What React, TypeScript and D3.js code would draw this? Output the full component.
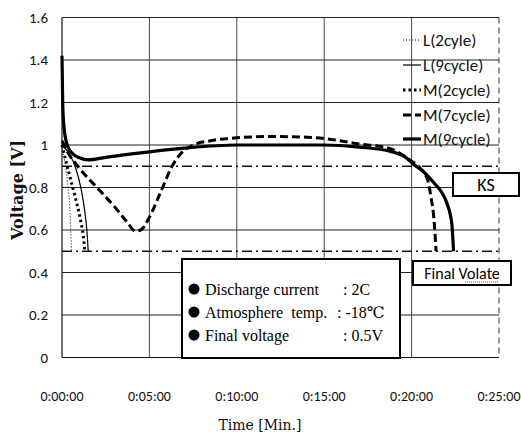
import React from "react";
import * as d3 from "d3";

// time in minutes, voltage in V
const timeTicks = [0, 5, 10, 15, 20, 25];
const timeLabels = ["0:00:00", "0:05:00", "0:10:00", "0:15:00", "0:20:00", "0:25:00"];
const voltTicks = [0, 0.2, 0.4, 0.6, 0.8, 1, 1.2, 1.4, 1.6];

const L2: [number, number][] = [[0, 1.0], [0.2, 0.9], [0.35, 0.8], [0.45, 0.7], [0.5, 0.6], [0.55, 0.5]];
const L9: [number, number][] = [[0, 1.0], [0.4, 0.96], [0.75, 0.9], [1.1, 0.79], [1.3, 0.69], [1.42, 0.6], [1.5, 0.5]];
const M2: [number, number][] = [[0, 1.0], [0.36, 0.88], [0.74, 0.76], [1.03, 0.66], [1.22, 0.57], [1.31, 0.5]];
const M7: [number, number][] = [
  [0, 1.02], [0.3, 0.97], [1, 0.89], [2, 0.8], [3, 0.71], [3.7, 0.64], [4.2, 0.595], [4.5, 0.6],
  [5, 0.66], [5.6, 0.77], [6.3, 0.9], [6.8, 0.96], [7.5, 1.0], [8.5, 1.02], [10, 1.034], [12, 1.04],
  [14, 1.037], [15.5, 1.025], [17, 1.005], [18.7, 0.985], [19.9, 0.93], [20.5, 0.89], [20.9, 0.84],
  [21.1, 0.76], [21.3, 0.63], [21.4, 0.5],
];
const M9: [number, number][] = [
  [0, 1.42], [0.04, 1.2], [0.12, 1.08], [0.3, 1.0], [0.6, 0.96], [1.0, 0.94], [1.5, 0.93], [2.5, 0.942],
  [4, 0.958], [5, 0.968], [7, 0.985], [10, 1.0], [13, 1.0], [15, 1.0], [17, 0.99], [18.8, 0.97],
  [19.6, 0.945], [20.1, 0.91], [20.6, 0.88], [21.3, 0.82], [21.7, 0.78], [22.0, 0.73], [22.3, 0.63], [22.4, 0.5],
];

const ksLevel = 0.9;
const finalLevel = 0.5;

const legendNames = ["L(2cyle)", "L(9cycle)", "M(2cycle)", "M(7cycle)", "M(9cycle)"];
const noteLabels = ["Discharge current", "Atmosphere  temp.", "Final voltage"];
const noteValues = [": 2C", ": -18\u2103", ": 0.5V"];

const styles = [
  { w: 1, dash: "1,2" },
  { w: 1.2, dash: "" },
  { w: 3, dash: "2.5,3" },
  { w: 3, dash: "8,4" },
  { w: 3.2, dash: "" },
];

const App = () => {
  const x = d3.scaleLinear().domain([0, 25]).range([62, 499]);
  const y = d3.scaleLinear().domain([0, 1.6]).range([357.5, 17.5]);
  const line = d3
    .line<[number, number]>()
    .x((d) => x(d[0]))
    .y((d) => y(d[1]))
    .curve(d3.curveMonotoneX);

  const series = [L2, L9, M2, M7, M9];
  const narrow = "Carlito, 'Liberation Sans Narrow', 'Arial Narrow', sans-serif";
  const serif = "'Liberation Serif', 'DejaVu Serif', serif";
  const legendY = [40, 65, 90, 115, 139];
  const noteY = [289, 312, 335];

  return (
    <div style={{ position: "absolute", left: 0, top: 0 }}>
      <svg width={521} height={434} style={{ display: "block", background: "#fff" }}>
        {/* horizontal grid */}
        {voltTicks.map((v) => (
          <line key={"h" + v} x1={x(0)} x2={x(25)} y1={y(v)} y2={y(v)} stroke="#222" strokeWidth={1} />
        ))}
        {/* vertical grid */}
        {timeTicks.slice(1, 5).map((t) => (
          <line key={"v" + t} x1={x(t)} x2={x(t)} y1={y(1.6)} y2={y(0)} stroke="#333" strokeWidth={0.9} />
        ))}
        <line x1={x(25)} x2={x(25)} y1={y(1.6)} y2={y(0)} stroke="#333" strokeWidth={1} strokeDasharray="6,4" />
        <line x1={x(0)} x2={x(0)} y1={y(1.6)} y2={y(0)} stroke="#111" strokeWidth={1.2} />
        <line x1={x(0)} x2={x(25)} y1={y(0)} y2={y(0)} stroke="#111" strokeWidth={1.2} />

        {/* KS / final reference lines */}
        {[ksLevel, finalLevel].map((v) => (
          <line key={"r" + v} x1={x(0)} x2={x(25)} y1={y(v)} y2={y(v)} stroke="#111" strokeWidth={1.6} strokeDasharray="10,4,2,4" />
        ))}

        {/* curves */}
        {series.map((s, i) => (
          <path
            key={"s" + i}
            d={line(s) || ""}
            fill="none"
            stroke="#000"
            strokeWidth={styles[i].w}
            strokeDasharray={styles[i].dash}
          />
        ))}

        {/* y tick labels */}
        {voltTicks.map((v) => (
          <text key={"yt" + v} x={48} y={y(v)} textAnchor="end" dominantBaseline="central" fontFamily={narrow} fontSize={15} fill="#111">
            {String(v)}
          </text>
        ))}
        {/* x tick labels */}
        {timeTicks.map((t, i) => (
          <text key={"xt" + t} x={x(t)} y={396} textAnchor="middle" dominantBaseline="central" fontFamily={narrow} fontSize={14} fill="#111">
            {timeLabels[i]}
          </text>
        ))}
        <text x={260} y={425} textAnchor="middle" dominantBaseline="central" fontFamily="'DejaVu Serif', serif" fontSize={14} fill="#111">
          Time [Min.]
        </text>
        <text
          transform="translate(17,190) rotate(-90)"
          textAnchor="middle"
          dominantBaseline="central"
          fontFamily="'DejaVu Serif', serif"
          fontWeight="bold"
          fontSize={16}
          fill="#111"
        >
          Voltage [V]
        </text>

        {/* legend */}
        {legendNames.map((n, i) => (
          <g key={"lg" + i}>
            <line x1={403} x2={421} y1={legendY[i]} y2={legendY[i]} stroke="#000" strokeWidth={styles[i].w} strokeDasharray={styles[i].dash} />
            <text x={423} y={legendY[i]} dominantBaseline="central" fontFamily={narrow} fontSize={17} fill="#111">
              {n}
            </text>
          </g>
        ))}

        {/* note box */}
        <rect x={182} y={259} width={218} height={99} fill="#fff" stroke="#000" strokeWidth={2} />
        {noteLabels.map((n, i) => (
          <g key={"nt" + i}>
            <circle cx={194} cy={noteY[i]} r={5.5} fill="#000" />
            <text x={205} y={noteY[i]} dominantBaseline="central" fontFamily={serif} fontSize={16} fill="#000" style={{ whiteSpace: "pre" }}>
              {n}
            </text>
            <text x={i === 1 ? 337 : 343} y={noteY[i]} dominantBaseline="central" fontFamily={serif} fontSize={16} fill="#000">
              {noteValues[i]}
            </text>
          </g>
        ))}

        {/* KS label */}
        <rect x={453} y={173} width={66} height={23} fill="#fff" stroke="#000" strokeWidth={2} />
        <text x={486} y={185} textAnchor="middle" dominantBaseline="central" fontFamily={narrow} fontSize={18} fill="#000">
          KS
        </text>
        {/* final voltage label */}
        <rect x={413} y={261} width={98} height={24} fill="#fff" stroke="#000" strokeWidth={2} />
        <text x={462} y={273} textAnchor="middle" dominantBaseline="central" fontFamily={narrow} fontSize={16} fill="#000">
          Final Volate
        </text>
        <line x1={465} x2={499} y1={282} y2={282} stroke="#555" strokeWidth={1} strokeDasharray="1,1" />
      </svg>
    </div>
  );
};

export default App;
